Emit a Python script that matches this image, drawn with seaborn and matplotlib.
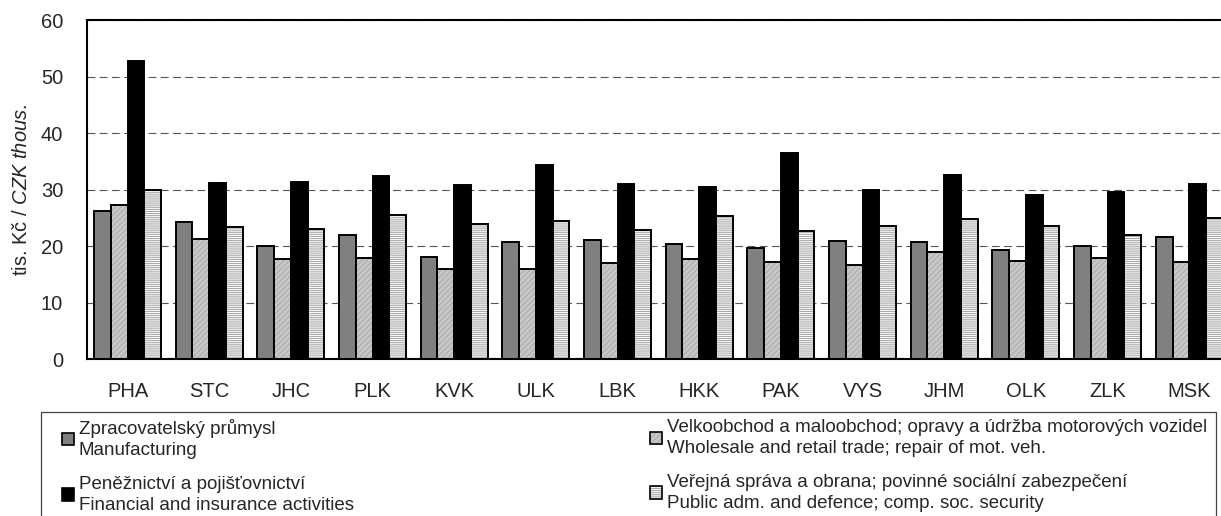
import pandas as pd
import matplotlib
matplotlib.use('Agg')
import matplotlib.pyplot as plt
import seaborn as sns
from matplotlib.patches import Rectangle, Patch
from matplotlib.legend_handler import HandlerTuple

# Data (tis. Kc)
regions = ['PHA', 'STC', 'JHC', 'PLK', 'KVK', 'ULK', 'LBK', 'HKK', 'PAK', 'VYS', 'JHM', 'OLK', 'ZLK', 'MSK']
manufacturing = [26.3, 24.2, 20.0, 21.95, 18.05, 20.7, 21.1, 20.35, 19.65, 20.9, 20.8, 19.3, 20.05, 21.6]
trade = [27.3, 21.2, 17.75, 18.0, 15.9, 16.0, 17.1, 17.75, 17.2, 16.6, 18.9, 17.3, 17.9, 17.2]
finance = [52.8, 31.1, 31.3, 32.5, 30.85, 34.3, 31.0, 30.4, 36.4, 29.85, 32.6, 29.0, 29.6, 31.0]
public = [29.9, 23.4, 23.0, 25.5, 23.95, 24.5, 22.9, 25.4, 22.7, 23.5, 24.8, 23.5, 21.95, 24.95]

sectors = [
    'Zpracovatelský průmysl\nManufacturing',
    'Velkoobchod a maloobchod; opravy a údržba motorových vozidel\nWholesale and retail trade; repair of mot. veh.',
    'Peněžnictví a pojišťovnictví\nFinancial and insurance activities',
    'Veřejná správa a obrana; povinné sociální zabezpečení\nPublic adm. and defence; comp. soc. security',
]
face_colors = ['#808080', '#c8c8c8', '#000000', '#ffffff']
hatches = ['', '//////', '', '--------']
hatch_colors = ['#808080', '#acacac', '#000000', '#a8a8a8']

rows = []
for sector, vals in zip(sectors, [manufacturing, trade, finance, public]):
    for r, v in zip(regions, vals):
        rows.append({'region': r, 'value': v, 'sector': sector})
df = pd.DataFrame(rows)

sns.set_style('white')
plt.rcParams['font.family'] = ['Liberation Sans', 'DejaVu Sans']
plt.rcParams['mathtext.fontset'] = 'custom'
plt.rcParams['mathtext.rm'] = 'Liberation Sans'
plt.rcParams['mathtext.it'] = 'Liberation Sans:italic'
plt.rcParams['hatch.linewidth'] = 0.8

W, H = 1221, 516
fig = plt.figure(figsize=(W / 100, H / 100), dpi=100)
ax_left, ax_top, ax_bottom = 86.7, 20, 359.3
ax_width = 14 * 81.67
ax = fig.add_axes([ax_left / W, 1 - ax_bottom / H, ax_width / W, (ax_bottom - ax_top) / H])

sns.barplot(data=df, x='region', y='value', hue='sector', hue_order=sectors,
            palette=face_colors, saturation=1, width=0.82, gap=0,
            edgecolor='black', linewidth=1.4, legend=False, ax=ax)

# patterned bars: hatch colour follows edgecolor, so redraw the black outline on top
for cont, hatch, hc in zip(ax.containers, hatches, hatch_colors):
    if not hatch:
        continue
    for p in cont.patches:
        p.set_hatch(hatch)
        p.set_edgecolor(hc)
        p.set_linewidth(0)
        ax.add_patch(Rectangle(p.get_xy(), p.get_width(), p.get_height(), fill=False,
                               edgecolor='black', linewidth=1.4, zorder=p.get_zorder() + 0.1))

ax.set_xlim(-0.5, 13.5)
ax.set_ylim(0, 60)
ax.set_yticks(range(0, 61, 10))
ax.set_xticks(range(len(regions)))
ax.set_xticklabels(regions)
ax.set_xticks([i - 0.5 for i in range(len(regions) + 1)], minor=True)
ax.tick_params(axis='x', which='major', length=0, pad=16, labelsize=14.5)
ax.tick_params(axis='x', which='minor', length=5, width=1, color='black', direction='out')
ax.tick_params(axis='y', length=5, width=1, color='black', direction='out', pad=12, labelsize=14.5)
ax.set_xlabel('')
ax.set_ylabel(r'tis. Kč / $\it{CZK\ thous.}$', fontsize=14.5, labelpad=7)

ax.set_axisbelow(True)
ax.yaxis.grid(True, color='#555555', linestyle=(0, (7, 4)), linewidth=0.8)
for side in ['left', 'top', 'bottom', 'right']:
    ax.spines[side].set_color('black')
    ax.spines[side].set_linewidth(1.5)

# legend: two columns, each its own legend, inside one grey frame
handles = []
for fc, hatch, hc in zip(face_colors, hatches, hatch_colors):
    inner = Patch(facecolor=fc, hatch=hatch, edgecolor=hc, linewidth=0)
    outline = Patch(fill=False, edgecolor='black', linewidth=1.2)
    handles.append((inner, outline))

leg_kw = dict(frameon=False, loc='upper left', borderpad=0, borderaxespad=0,
              handlelength=0.65, handleheight=0.65, handletextpad=0.25,
              labelspacing=0.9, fontsize=13.5,
              handler_map={tuple: HandlerTuple(ndivide=1, pad=0)})
leg1 = fig.legend([handles[0], handles[2]], [sectors[0], sectors[2]],
                  bbox_to_anchor=(62 / W, 1 - 419 / H), **leg_kw)
leg2 = fig.legend([handles[1], handles[3]], [sectors[1], sectors[3]],
                  bbox_to_anchor=(650 / W, 1 - 419 / H), **leg_kw)
for leg in (leg1, leg2):
    for t in leg.get_texts():
        t.set_linespacing(1.3)

fig.patches.append(Rectangle((40.7 / W, -0.1), (1216 - 40.7) / W, 0.1 + 1 - 411.7 / H,
                             transform=fig.transFigure, fill=False,
                             edgecolor='#444444', linewidth=0.9))

fig.savefig('out.png', dpi=100)
